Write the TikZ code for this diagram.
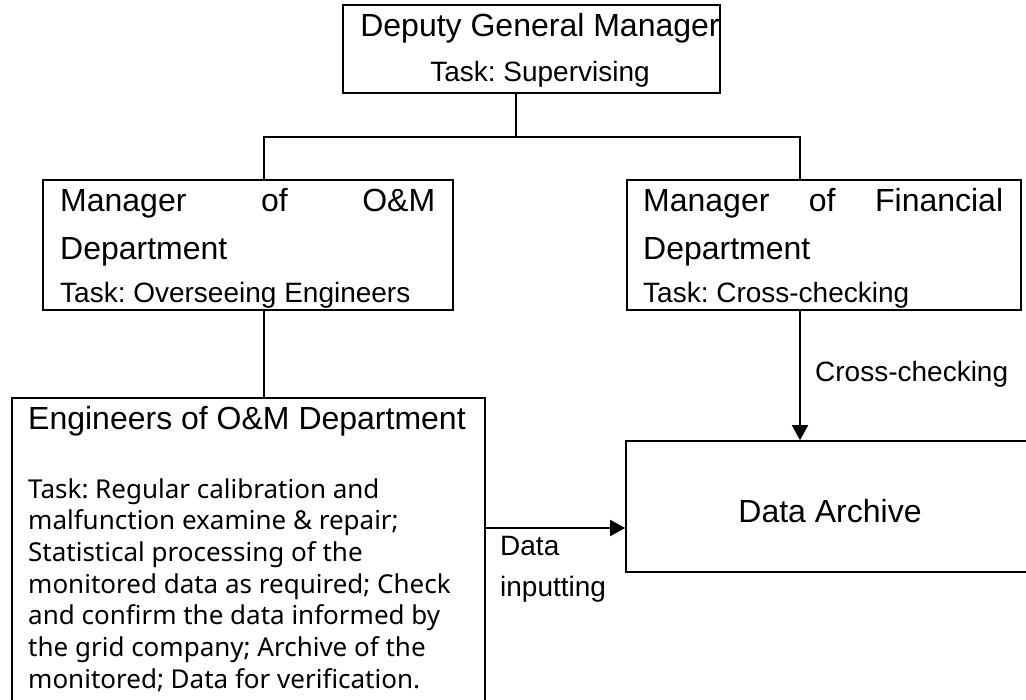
\documentclass[tikz,border=0pt]{standalone}
\usepackage{fontspec}
\setmainfont{Liberation Sans}
\newfontfamily\bodyfont{Noto Sans}
\usetikzlibrary{arrows.meta}
\begin{document}
\begin{tikzpicture}[x=1pt,y=-1pt,
  box/.style={draw, line width=1.6pt, rectangle, inner sep=0pt, anchor=center},
  conn/.style={line width=1.6pt},
  arr/.style={conn, -{Triangle[length=15pt,width=16pt]}},
  big/.style={font=\frenchspacing\fontsize{32}{38}\selectfont, inner sep=0pt},
  mid/.style={font=\frenchspacing\fontsize{28}{34}\selectfont, inner sep=0pt},
  body/.style={font=\frenchspacing\bodyfont\fontsize{26}{31}\selectfont, inner sep=0pt, anchor=base west}]
\useasboundingbox (0,0) rectangle (1026,700);
\clip (0,0) rectangle (1026,700);

% boxes
\node[box, minimum width=377pt, minimum height=88pt] (dgm) at (531.5,49) {};
\node[big, anchor=base] (dgmt) at (540,37) {Deputy General Manager};
\node[mid, anchor=base] (dgmk) at (540,82) {Task: Supervising};

\node[box, minimum width=410pt, minimum height=130pt] (om) at (248,245) {};
\node[box, minimum width=394pt, minimum height=130pt] (fin) at (824,245) {};

\begin{scope}
  \clip ([yshift=2.5pt]om.south west) rectangle (om.north east);
  \node[big, anchor=base west] (om1) at (60,212) {\makebox[375pt]{Manager\hfill of\hfill O\&M}};
  \node[big, anchor=base west] (om2) at (60,260) {Department};
  \node[mid, anchor=base west] (om3) at (60,303) {Task: Overseeing Engineers};
\end{scope}
\begin{scope}
  \clip ([yshift=2.5pt]fin.south west) rectangle (fin.north east);
  \node[big, anchor=base west] (fin1) at (643,212) {\makebox[360pt]{Manager\hfill of\hfill Financial}};
  \node[big, anchor=base west] (fin2) at (643,260) {Department};
  \node[mid, anchor=base west] (fin3) at (643,303) {Task: Cross-checking};
\end{scope}

\node[box, minimum width=473pt, minimum height=332pt] (eng) at (248.5,564) {};
\node[big, anchor=base west] (engt) at (28,430) {Engineers of O\&M Department};
\foreach \t [count=\i from 0] in {Task: Regular calibration and,
    malfunction examine \& repair;,
    Statistical processing of the,
    monitored data as required; Check,
    and confirm the data informed by,
    the grid company; Archive of the,
    monitored; Data for verification.}
  \node[body] (eb\i) at (28,{498+31.67*\i}) {\t};

\node[box, minimum width=408pt, minimum height=131pt] (arch) at (830,506.5) {};
\node[big, anchor=base] (archt) at (830,522) {Data Archive};

% connectors
\coordinate (xT) at (516,137);
\coordinate (xL) at (264,137);
\coordinate (xR) at (800,137);
\coordinate (yIn) at (0,528);
\draw[conn] (dgm.south -| xT) -- (xT);
\draw[conn] (om.north -| xL) |- (xR) -- (fin.north -| xR);
\draw[conn] (om.south -| xL) -- (eng.north -| xL);
\draw[arr] (fin.south -| xR) -- (arch.north -| xR);
\draw[arr] (eng.east |- yIn) -- (arch.west |- yIn);

% labels
\node[mid, anchor=base west] (cc) at (815,382) {Cross-checking};
\node[mid, anchor=base west] (di1) at (500,555) {Data};
\node[mid, anchor=base west] (di2) at (500,596) {inputting};
\end{tikzpicture}
\end{document}
